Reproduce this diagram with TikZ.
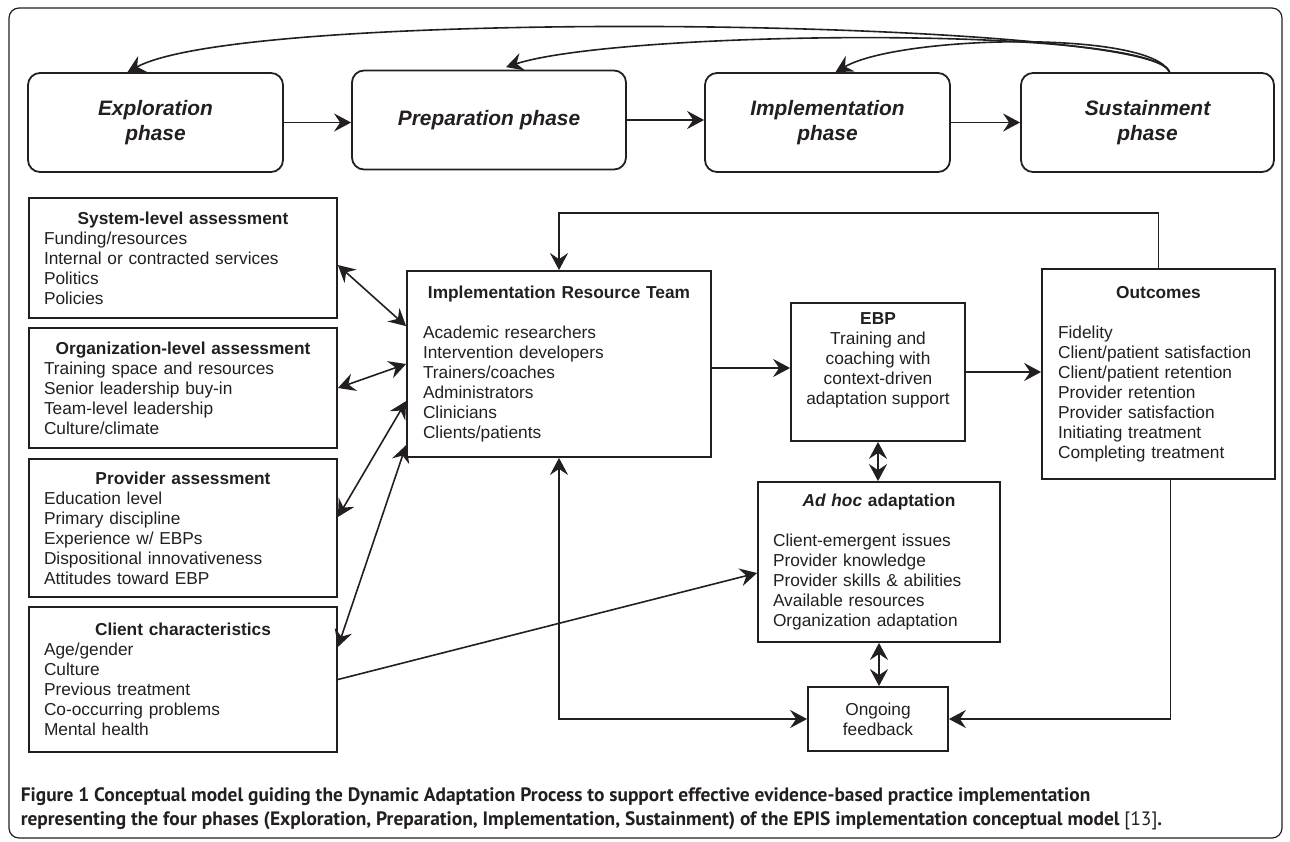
\documentclass[tikz,border=0pt]{standalone}
\usepackage{fontspec}
\setmainfont{Liberation Sans}
\newfontfamily\capfont{PT Sans}
\usepackage{tikz}
\usetikzlibrary{calc}
\usetikzlibrary{positioning}
\usetikzlibrary{arrows.meta}
\definecolor{ink}{RGB}{35,31,32}
\newcommand{\boxhead}[1]{\makebox[\linewidth]{\bfseries #1}}
\tikzset{phase/.style={draw=ink, rounded corners=6pt, line width=0.9pt, align=center, minimum height=49.5pt, font=\fontsize{10.45}{12.5}\selectfont\bfseries\itshape}}
\tikzset{factor/.style={draw=ink, rectangle, line width=0.9pt, inner sep=0pt, align=left, font=\fontsize{8.65}{10}\selectfont}}

\begin{document}
\begin{tikzpicture}[x=0.5pt, y=-0.5pt, color=ink, line width=0.8pt, >={Stealth[length=8.5pt, width=9pt, inset=3pt]}]
		\useasboundingbox (0,0) rectangle (1290,841);
		\draw[line width=0.6pt, rounded corners=5pt] (9,8) rectangle (1282,838);
		% phases
		\node[phase, minimum width=127.5pt] (exp) at (155.5,122.5) {Exploration\\phase};
		\node[phase, minimum width=137pt] (prep) at (489,120) {Preparation phase};
		\node[phase, minimum width=122.5pt] (impl) at (827.5,122.5) {Implementation\\phase};
		\node[phase, minimum width=126.5pt] (sus) at (1147.5,122.5) {Sustainment\\phase};
		\path [->] (exp) edge (exp -| prep.west);
		\path [->] (prep) edge (prep -| impl.west);
		\path [->] (impl) edge (sus);
		\draw [->] ([xshift=11pt]sus.north) .. controls (1160,20) and (250,5) .. ([xshift=-14pt]exp.north);
		\draw [->] ([xshift=11pt]sus.north) .. controls (1150,25) and (620,30) .. ([xshift=8.5pt,yshift=1.25pt]prep.north);
		\draw [->] ([xshift=11pt]sus.north) .. controls (1150,30) and (900,35) .. ([xshift=4pt]impl.north);
		% assessments
		\node[factor, minimum width=154pt, minimum height=60pt, text width=139pt] (sys) at (183,258) {\boxhead{System-level assessment}\\Funding/resources\\Internal or contracted services\\Politics\\Policies};
		\node[factor, minimum width=154pt, minimum height=60pt, text width=139pt] (org) at (183,388) {\boxhead{Organization-level assessment}\\Training space and resources\\Senior leadership buy-in\\Team-level leadership\\Culture/climate};
		\node[factor, minimum width=154pt, minimum height=69pt, text width=139pt] (prov) at (183,528) {\boxhead{Provider assessment}\\Education level\\Primary discipline\\Experience w/ EBPs\\Dispositional innovativeness\\Attitudes toward EBP};
		\node[factor, minimum width=154pt, minimum height=72.5pt, text width=139pt] (cli) at (183,679.5) {\boxhead{Client characteristics}\\Age/gender\\Culture\\Previous treatment\\Co-occurring problems\\Mental health};
		% team, practice, outcomes
		\node[factor, minimum width=152pt, minimum height=93pt, text width=136pt] (irt) at (559,364) {\boxhead{Implementation Resource Team}\\[10pt]Academic researchers\\Intervention developers\\Trainers/coaches\\Administrators\\Clinicians\\Clients/patients};
		\node[factor, minimum width=87pt, minimum height=69pt, align=center] (ebp) at (878,372) {\textbf{EBP}\\Training and\\coaching with\\context-driven\\adaptation support\\ \strut};
		\node[factor, minimum width=116.5pt, minimum height=105pt, text width=100.5pt] (out) at (1158.5,374) {\boxhead{Outcomes}\\[10pt]Fidelity\\Client/patient satisfaction\\Client/patient retention\\Provider retention\\Provider satisfaction\\Initiating treatment\\Completing treatment\\[5pt]};
		\node[factor, minimum width=121pt, minimum height=80pt, text width=106pt] (adhoc) at (879,562) {\boxhead{\textit{Ad hoc} adaptation}\\[10pt]Client-emergent issues\\Provider knowledge\\Provider skills \& abilities\\Available resources\\Organization adaptation};
		\node[factor, minimum width=70pt, minimum height=32pt, align=center] (fb) at (878,719) {Ongoing\\feedback};
		% links
		\path [<->] ([yshift=-3.5pt]sys.east) edge ([yshift=-28pt]irt.north west);
		\path [<->] (org.east) edge (irt.west);
		\path [<->] ([yshift=5.5pt]prov.east) edge ([yshift=-65.5pt]irt.north west);
		\path [<->] ([yshift=16.25pt]cli.east) edge ([yshift=-87.5pt]irt.north west);
		\path [->] (cli.east) edge ([yshift=-5.5pt]adhoc.west);
		\path [->] ([yshift=-2pt]irt.east) edge ([yshift=-2pt]irt.east -| ebp.west);
		\path [->] (ebp.east) edge (ebp.east -| out.west);
		\path [<->] (ebp.south) edge (ebp.south |- adhoc.north);
		\path [<->] (adhoc.south) edge (adhoc.south |- fb.north);
		\draw [->] (out.north) -- ++(0,-55) -| (irt.north);
		\draw [<->] (irt.south) |- (fb.west);
		\draw [->] ([xshift=6pt]out.south) |- (fb.east);
		% caption
		\node[anchor=north west, inner sep=0pt, align=left, font=\capfont\fontsize{9.7}{12}\selectfont\bfseries] (cap) at (20,787) {Figure 1 Conceptual model guiding the Dynamic Adaptation Process to support effective evidence-based practice implementation\\representing the four phases (Exploration, Preparation, Implementation, Sustainment) of the EPIS implementation conceptual model {\mdseries [13]}.};
	\end{tikzpicture}
\end{document}
